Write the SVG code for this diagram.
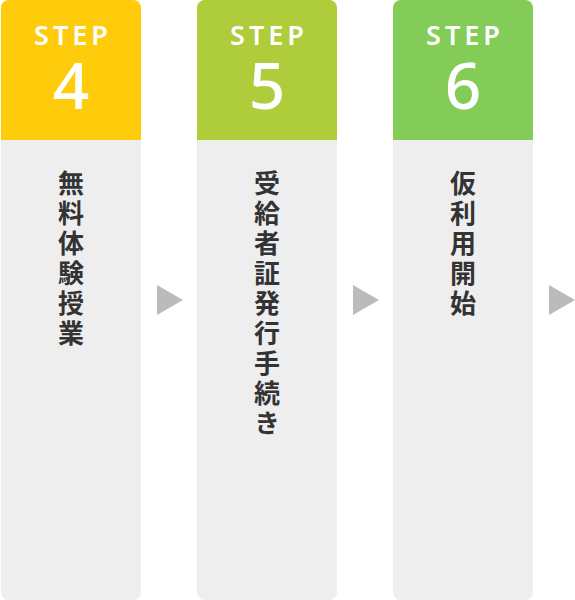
<svg xmlns="http://www.w3.org/2000/svg" width="575" height="600" viewBox="0 0 575 600">
<style>
.body{fill:#eeeeee}
.step{font-family:"Noto Sans","Liberation Sans",sans-serif;font-size:27px;font-weight:600;fill:#ffffff;letter-spacing:4px;text-anchor:middle}
.num{font-family:"Noto Sans","Liberation Sans",sans-serif;font-size:64px;font-weight:500;fill:#ffffff;text-anchor:middle}
.label{font-family:"Noto Sans CJK JP",sans-serif;font-size:26px;font-weight:700;fill:#333333;writing-mode:vertical-rl;letter-spacing:4px}
.arrow{fill:#bbbbbb}
</style>
<g id="step4">
<rect class="body" x="1" y="0" width="140" height="600" rx="8"/>
<path d="M1,140 V8 A8,8 0 0 1 9,0 H133 A8,8 0 0 1 141,8 V140 Z" fill="#fecc0b"/>
<text class="step" x="73" y="45">STEP</text>
<text class="num" x="71" y="109">4</text>
<text class="label" x="71" y="170">無料体験授業</text>
</g>
<g id="step5">
<rect class="body" x="197" y="0" width="140" height="600" rx="8"/>
<path d="M197,140 V8 A8,8 0 0 1 205,0 H329 A8,8 0 0 1 337,8 V140 Z" fill="#afcc3a"/>
<text class="step" x="269" y="45">STEP</text>
<text class="num" x="267" y="109">5</text>
<text class="label" x="267" y="170">受給者証発行手続き</text>
</g>
<g id="step6">
<rect class="body" x="393" y="0" width="140" height="600" rx="8"/>
<path d="M393,140 V8 A8,8 0 0 1 401,0 H525 A8,8 0 0 1 533,8 V140 Z" fill="#82cc57"/>
<text class="step" x="465" y="45">STEP</text>
<text class="num" x="463" y="109">6</text>
<text class="label" x="463" y="170">仮利用開始</text>
</g>
<g id="connectors">
<polygon class="arrow" points="157,285 183,300 157,315"/>
<polygon class="arrow" points="353,285 379,300 353,315"/>
<polygon class="arrow" points="549,285 575,300 549,315"/>
</g>
</svg>
